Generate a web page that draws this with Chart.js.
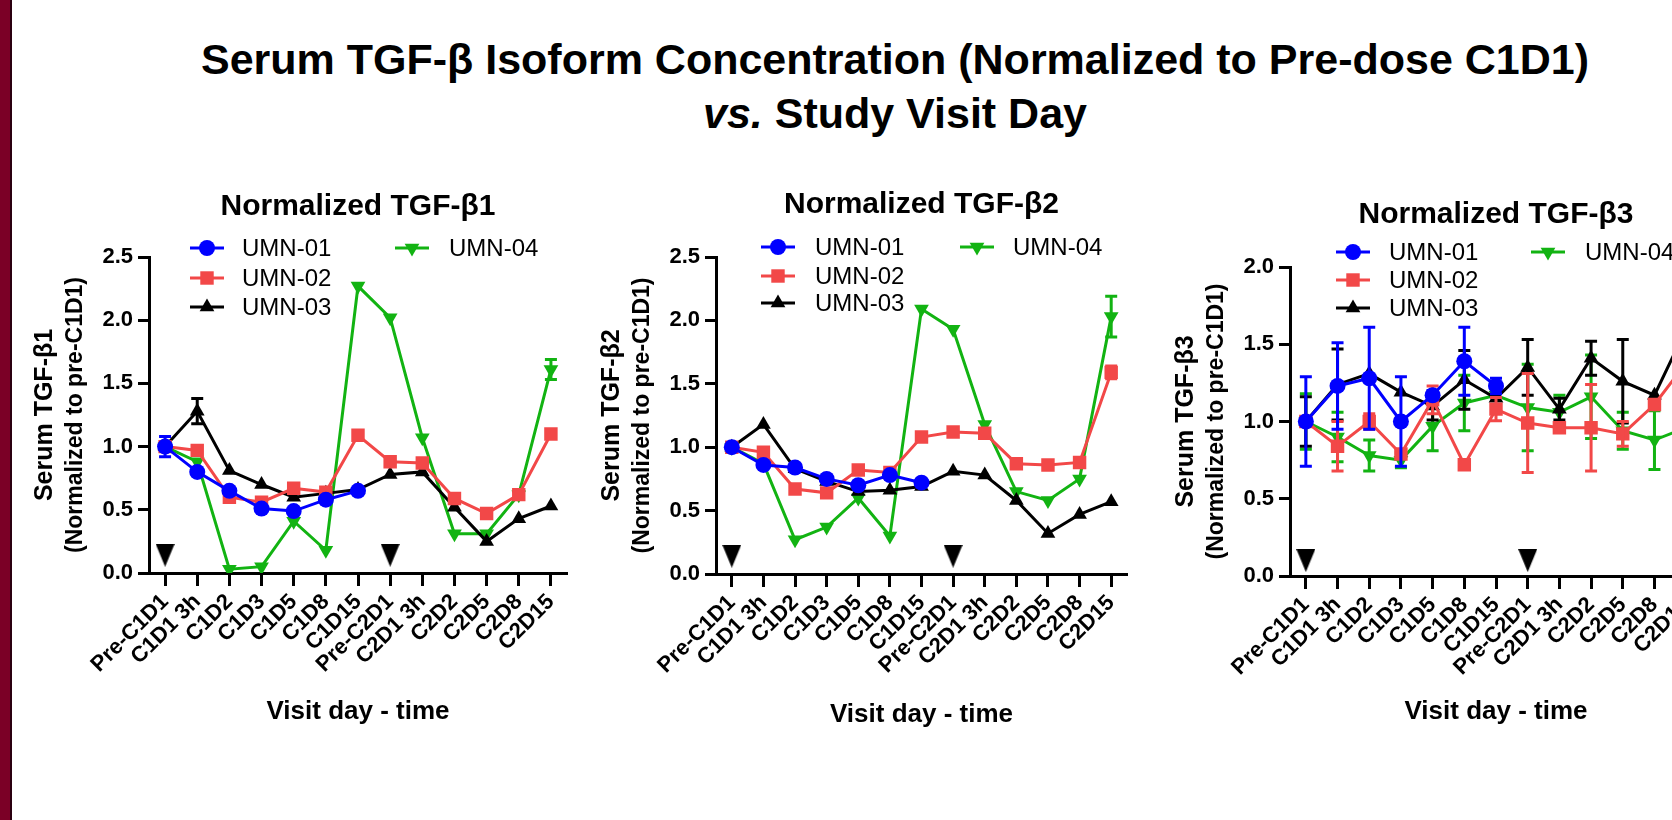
<!DOCTYPE html>
<html>
<head>
<meta charset="utf-8">
<script src="https://cdn.jsdelivr.net/npm/chart.js@4/dist/chart.umd.min.js"></script>
<style>
  html, body { margin: 0; padding: 0; background: #fff; }
  body { width: 1672px; height: 820px; overflow: hidden; position: relative; }
  #bar { position: absolute; left: 0; top: 0; width: 10px; height: 820px; background: #7b0026; border-right: 2px solid #2a0010; }
  #mainTitle { position: absolute; left: 0; top: 32px; width: 1790px; text-align: center;
    font: bold 43px 'Liberation Sans', Arial, sans-serif; line-height: 54px; color: #000; }
  canvas { position: absolute; top: 150px; }
</style>
</head>
<body>
<div id="bar"></div>
<div id="mainTitle">Serum TGF-β Isoform Concentration (Normalized to Pre-dose C1D1)<br><i>vs.</i> Study Visit Day</div>
<canvas id="beta1" width="578" height="620" style="left:12px"></canvas>
<canvas id="beta2" width="572" height="620" style="left:590px"></canvas>
<canvas id="beta3" width="600" height="620" style="left:1162px"></canvas>
<script>
const visitLabels = ['Pre-C1D1', 'C1D1 3h', 'C1D2', 'C1D3', 'C1D5', 'C1D8', 'C1D15', 'Pre-C2D1', 'C2D1 3h', 'C2D2', 'C2D5', 'C2D8', 'C2D15'];
const seriesNames = ['UMN-01', 'UMN-02', 'UMN-03', 'UMN-04'];

// TGF-b1
const b1Umn01 = [1.00, 0.80, 0.65, 0.51, 0.49, 0.58, 0.65, null, null, null, null, null, null];
const b1Umn02 = [1.00, 0.97, 0.60, 0.56, 0.67, 0.64, 1.09, 0.88, 0.87, 0.59, 0.47, 0.62, 1.10];
const b1Umn03 = [1.00, 1.28, 0.81, 0.70, 0.60, 0.63, 0.66, 0.78, 0.80, 0.52, 0.25, 0.43, 0.53];
const b1Umn04 = [1.00, 0.88, 0.03, 0.05, 0.41, 0.18, 2.27, 2.02, 1.07, 0.31, 0.31, 0.62, 1.61];
const b1Err01 = [0.08, null, null, null, null, null, null, null, null, null, null, null, null];
const b1Err02 = [null, null, null, null, null, null, null, null, null, null, null, null, null];
const b1Err03 = [null, 0.10, null, null, null, null, null, null, null, null, null, null, null];
const b1Err04 = [null, null, null, null, null, null, null, null, null, null, null, null, 0.08];
const b1Dose = [0.14, null, null, null, null, null, null, 0.14, null, null, null, null, null];

// TGF-b2
const b2Umn01 = [1.00, 0.86, 0.84, 0.75, 0.70, 0.78, 0.72, null, null, null, null, null, null];
const b2Umn02 = [1.00, 0.96, 0.67, 0.64, 0.82, 0.80, 1.08, 1.12, 1.11, 0.87, 0.86, 0.88, 1.59];
const b2Umn03 = [1.00, 1.18, 0.83, 0.73, 0.65, 0.66, 0.69, 0.81, 0.78, 0.58, 0.32, 0.47, 0.57];
const b2Umn04 = [1.00, 0.87, 0.27, 0.37, 0.60, 0.30, 2.09, 1.93, 1.18, 0.65, 0.58, 0.75, 2.03];
const b2Err01 = [null, null, null, null, null, null, null, null, null, null, null, null, null];
const b2Err02 = [null, null, null, null, null, null, null, null, null, null, null, null, 0.05];
const b2Err03 = [null, null, null, null, null, null, null, null, null, null, null, null, null];
const b2Err04 = [null, null, null, null, null, null, null, null, null, null, null, null, 0.16];
const b2Dose = [0.14, null, null, null, null, null, null, 0.14, null, null, null, null, null];

// TGF-b3
const b3Umn01 = [1.00, 1.23, 1.28, 1.00, 1.17, 1.39, 1.23, null, null, null, null, null, null];
const b3Umn02 = [1.00, 0.84, 1.00, 0.79, 1.14, 0.72, 1.08, 0.99, 0.96, 0.96, 0.92, 1.11, 1.38];
const b3Umn03 = [1.00, 1.24, 1.31, 1.19, 1.10, 1.27, 1.15, 1.35, 1.08, 1.41, 1.26, 1.17, 1.60];
const b3Umn04 = [1.00, 0.90, 0.78, 0.75, 0.97, 1.12, 1.17, 1.09, 1.06, 1.16, 0.94, 0.88, 0.96];
const b3Err01 = [0.29, 0.28, 0.33, 0.29, 0.03, 0.22, 0.05, null, null, null, null, null, null];
const b3Err02 = [null, 0.16, 0.05, null, 0.09, null, 0.075, 0.32, null, 0.28, 0.08, null, null];
const b3Err03 = [0.16, 0.23, null, null, 0.09, 0.19, null, 0.18, 0.07, 0.11, 0.27, null, null];
const b3Err04 = [0.18, 0.16, 0.10, 0.05, 0.16, 0.18, null, 0.28, 0.11, 0.27, 0.12, 0.19, null];
const b3Dose = [0.10, null, null, null, null, null, null, 0.10, null, null, null, null, null];

const family = "'Liberation Sans', Arial, Helvetica, sans-serif";
Chart.defaults.font.family = family;
Chart.defaults.color = '#000';

const seriesStyles = [
    {color: '#0000ff', pointStyle: 'circle', radius: 8, rotation: 0},
    {color: '#f24848', pointStyle: 'rect', radius: 9.5, rotation: 0},
    {color: '#000000', pointStyle: 'triangle', radius: 8.5, rotation: 0},
    {color: '#12b312', pointStyle: 'triangle', radius: 8.5, rotation: 180}
];

// tall down-pointing arrow used for the dosing days
function doseArrow() {
    const c = document.createElement('canvas');
    c.width = 19;
    c.height = 23;
    const g = c.getContext('2d');
    g.fillStyle = '#000';
    g.beginPath();
    g.moveTo(0, 0);
    g.lineTo(19, 0);
    g.lineTo(9.5, 23);
    g.closePath();
    g.fill();
    return c;
}

const errorBarPlugin = {
    id: 'errorBars',
    afterDatasetDraw(chart, args) {
        const ds = chart.data.datasets[args.index];
        if (!ds.errors) return;
        const {ctx, scales: {x, y}} = chart;
        ctx.save();
        ctx.strokeStyle = ds.borderColor;
        ctx.lineWidth = 3;
        ds.errors.forEach((e, j) => {
            if (e == null || ds.data[j] == null) return;
            const px = x.getPixelForValue(j);
            const top = y.getPixelForValue(ds.data[j] + e);
            const bot = y.getPixelForValue(ds.data[j] - e);
            ctx.beginPath();
            ctx.moveTo(px, top); ctx.lineTo(px, bot);
            ctx.moveTo(px - 6, top); ctx.lineTo(px + 6, top);
            ctx.moveTo(px - 6, bot); ctx.lineTo(px + 6, bot);
            ctx.stroke();
        });
        ctx.restore();
    }
};

const cornerLegend = {
    id: 'cornerLegend',
    afterDraw(chart, args, opts) {
        const {ctx, chartArea} = chart;
        ctx.save();
        ctx.font = '24px ' + family;
        ctx.textBaseline = 'middle';
        seriesNames.forEach((name, i) => {
            const ds = chart.data.datasets[i];
            const col = i < 3 ? 0 : 1;
            const row = i < 3 ? i : 0;
            const mx = chartArea.left + opts.marks[col];
            const my = chartArea.top + opts.rows[row];
            ctx.strokeStyle = ds.borderColor;
            ctx.lineWidth = 3;
            ctx.beginPath();
            ctx.moveTo(mx - 17, my);
            ctx.lineTo(mx + 17, my);
            ctx.stroke();
            ctx.fillStyle = ds.pointBackgroundColor;
            Chart.helpers.drawPoint(ctx, {
                pointStyle: ds.pointStyle, radius: ds.pointRadius,
                rotation: ds.pointRotation, borderWidth: 0
            }, mx, my);
            ctx.fillStyle = '#000';
            ctx.fillText(name, chartArea.left + opts.texts[col], my + 1);
        });
        ctx.restore();
    }
};

const yTitle = {
    id: 'yTitle',
    afterDraw(chart, args, opts) {
        const {ctx, chartArea} = chart;
        const cy = (chartArea.top + chartArea.bottom) / 2;
        [[opts.main, 25, 104], [opts.sub, 23, 73]].forEach(([text, size, dx]) => {
            ctx.save();
            ctx.translate(chartArea.left - dx, cy);
            ctx.rotate(-Math.PI / 2);
            ctx.font = 'bold ' + size + 'px ' + family;
            ctx.fillStyle = '#000';
            ctx.textAlign = 'center';
            ctx.textBaseline = 'middle';
            ctx.fillText(text, 0, 0);
            ctx.restore();
        });
    }
};

const arrow = doseArrow();

function buildPanel(id, p) {
    const datasets = p.values.map((vals, i) => ({
        label: seriesNames[i],
        data: vals,
        errors: p.errors[i],
        borderColor: seriesStyles[i].color,
        backgroundColor: seriesStyles[i].color,
        pointBackgroundColor: seriesStyles[i].color,
        pointBorderWidth: 0,
        pointStyle: seriesStyles[i].pointStyle,
        pointRadius: seriesStyles[i].radius,
        pointRotation: seriesStyles[i].rotation,
        borderWidth: 3,
        spanGaps: false
    }));
    datasets.push({
        label: 'dose',
        data: p.doses,
        showLine: false,
        pointStyle: arrow,
        pointRadius: 12
    });

    return new Chart(document.getElementById(id), {
        type: 'line',
        data: {labels: visitLabels, datasets},
        plugins: [errorBarPlugin, cornerLegend, yTitle],
        options: {
            responsive: false,
            animation: false,
            events: [],
            layout: {padding: {left: 0, right: p.padRight, top: 0, bottom: 0}},
            plugins: {
                legend: {display: false},
                tooltip: {enabled: false},
                title: {
                    display: true, text: p.title, fullSize: false, color: '#000',
                    font: {size: 30, weight: 'bold'},
                    padding: {top: p.titleTop, bottom: p.titleBottom}
                },
                cornerLegend: {rows: p.legendRows, marks: p.legendMarks, texts: p.legendTexts},
                yTitle: {main: p.yMain, sub: '(Normalized to pre-C1D1)'}
            },
            scales: {
                x: {
                    offset: true,
                    grid: {drawOnChartArea: false, drawTicks: true, tickLength: 13, tickWidth: 3, tickColor: '#000', offset: false},
                    border: {display: true, color: '#000', width: 3},
                    ticks: {autoSkip: false, minRotation: 45, maxRotation: 45, padding: 3, color: '#000', font: {size: 22, weight: 'bold'}},
                    title: {display: true, text: 'Visit day - time', color: '#000', font: {size: 26, weight: 'bold'}, padding: {top: 0, bottom: p.xTitleBottom}},
                    afterFit: s => { s.height = p.xAxisHeight; }
                },
                y: {
                    min: 0,
                    max: p.yMax,
                    grid: {drawOnChartArea: false, tickLength: 11, tickWidth: 3, tickColor: '#000'},
                    border: {display: true, color: '#000', width: 3},
                    ticks: {stepSize: 0.5, padding: 5, color: '#000', font: {size: 22, weight: 'bold'}, callback: v => v.toFixed(1)},
                    afterFit: s => { s.width = p.yAxisWidth; }
                }
            }
        }
    });
}

buildPanel('beta1', {
    title: 'Normalized TGF-β1', yMain: 'Serum TGF-β1', yMax: 2.5,
    values: [b1Umn01, b1Umn02, b1Umn03, b1Umn04],
    errors: [b1Err01, b1Err02, b1Err03, b1Err04],
    doses: b1Dose,
    yAxisWidth: 137, padRight: 23, xAxisHeight: 197, xTitleBottom: 42.4,
    titleTop: 39, titleBottom: 32,
    legendRows: [-9, 21, 50], legendMarks: [58, 263], legendTexts: [93, 300]
});

buildPanel('beta2', {
    title: 'Normalized TGF-β2', yMain: 'Serum TGF-β2', yMax: 2.5,
    values: [b2Umn01, b2Umn02, b2Umn03, b2Umn04],
    errors: [b2Err01, b2Err02, b2Err03, b2Err04],
    doses: b2Dose,
    yAxisWidth: 126, padRight: 35, xAxisHeight: 196, xTitleBottom: 39.4,
    titleTop: 37, titleBottom: 34,
    legendRows: [-10, 19, 46], legendMarks: [62, 261], legendTexts: [99, 297]
});

buildPanel('beta3', {
    title: 'Normalized TGF-β3', yMain: 'Serum TGF-β3', yMax: 2.0,
    values: [b3Umn01, b3Umn02, b3Umn03, b3Umn04],
    errors: [b3Err01, b3Err02, b3Err03, b3Err04],
    doses: b3Dose,
    yAxisWidth: 128, padRight: 60, xAxisHeight: 194, xTitleBottom: 42.4,
    titleTop: 47, titleBottom: 34,
    legendRows: [-15, 13, 41], legendMarks: [63, 258], legendTexts: [99, 295]
});
</script>
</body>
</html>
